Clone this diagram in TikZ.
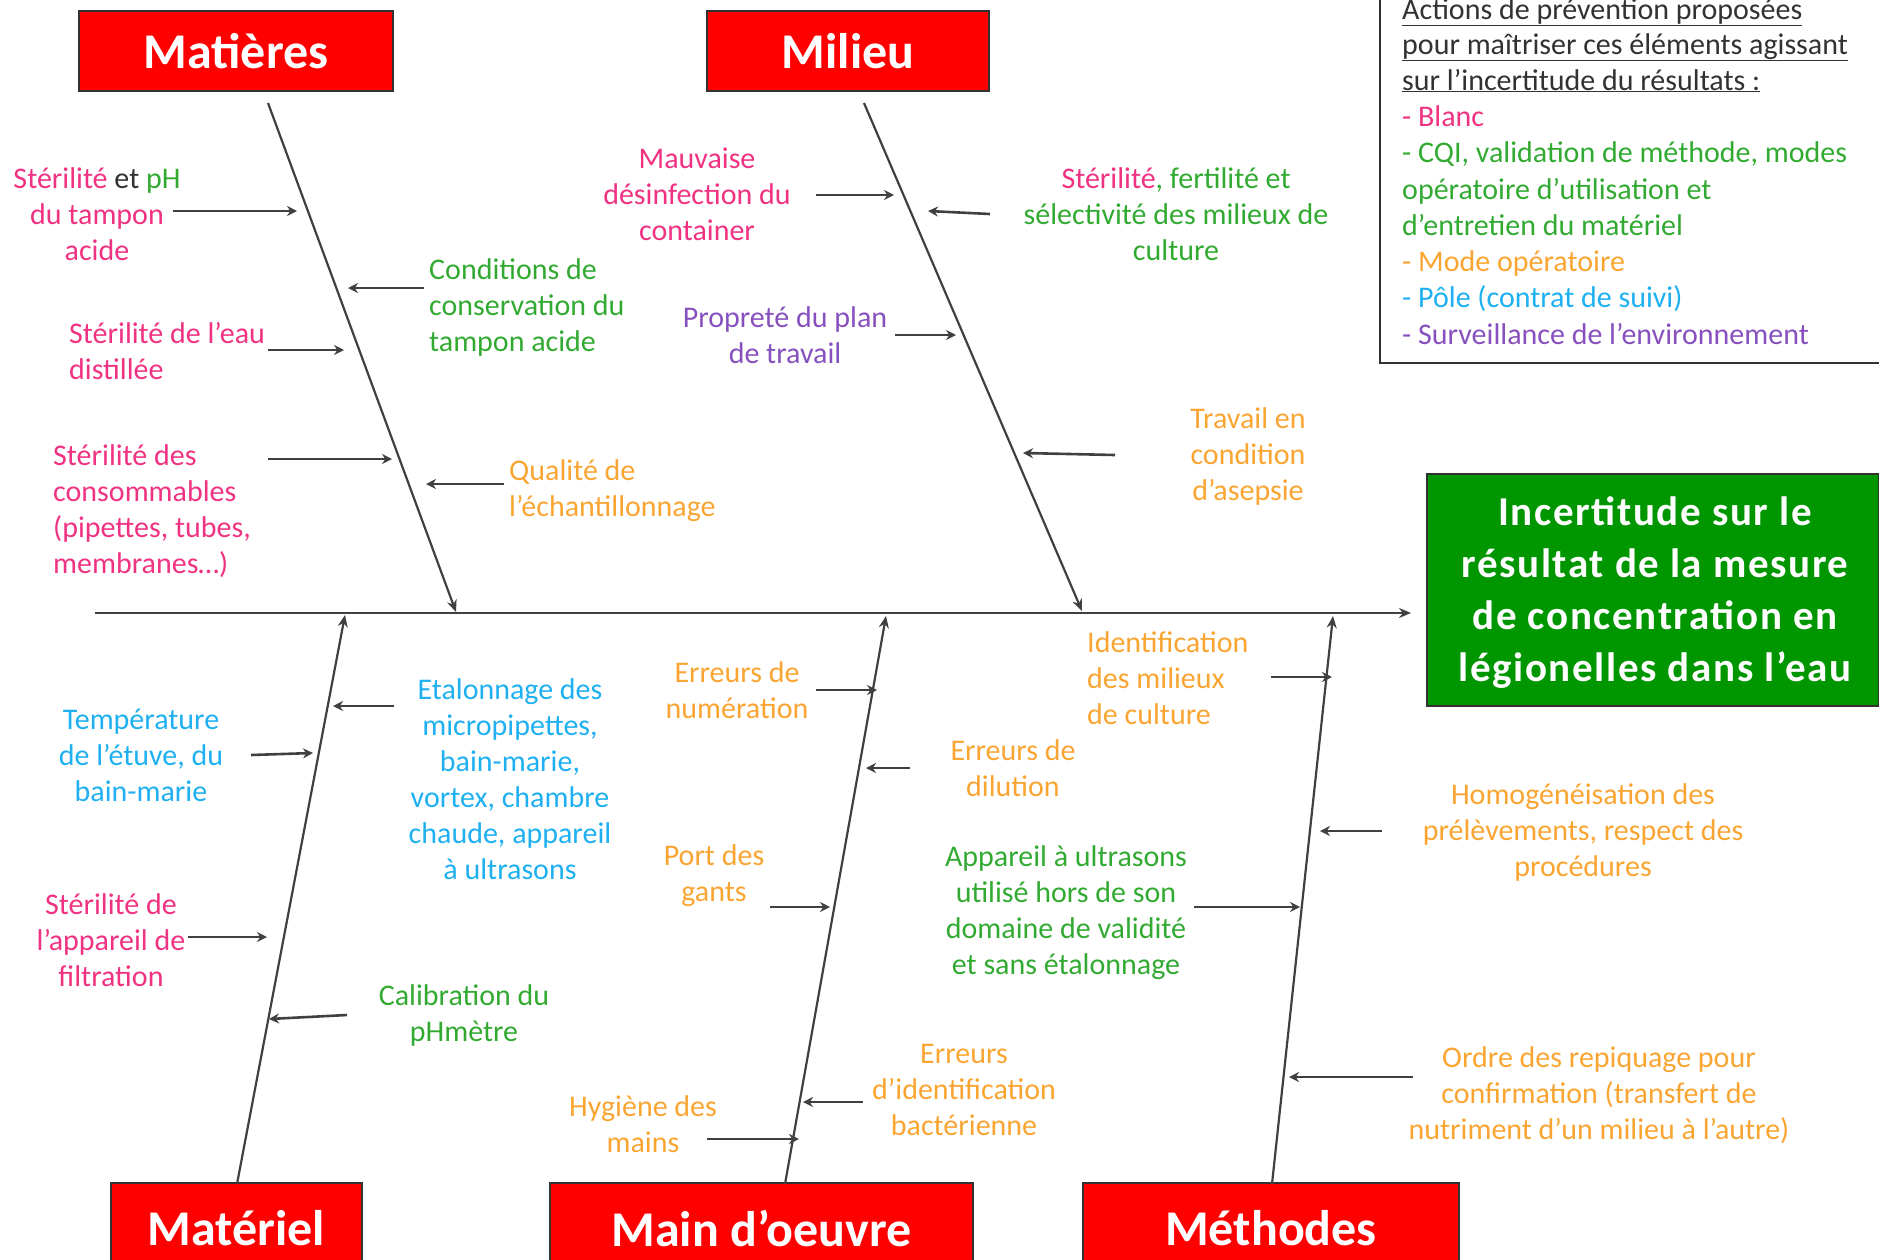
\documentclass[tikz,border=0pt]{standalone}
\usepackage{fontspec}
\setmainfont{Carlito}
\usetikzlibrary{arrows.meta}
\definecolor{cpink}{RGB}{240,50,130}
\definecolor{cgreen}{RGB}{50,170,50}
\definecolor{corange}{RGB}{250,165,50}
\definecolor{cblue}{RGB}{30,176,240}
\definecolor{cpurple}{RGB}{135,80,190}
\definecolor{cred}{RGB}{255,0,0}
\definecolor{cgreenbox}{RGB}{0,150,0}
\definecolor{cline}{RGB}{64,64,64}
\definecolor{cdark}{RGB}{50,50,50}
\begin{document}
\begin{tikzpicture}[x=1pt,y=-1pt,
  lbl/.style={font=\fontsize{30}{36}\selectfont, align=center, inner sep=0pt},
  lbll/.style={lbl, align=left, anchor=west},
  leg/.style={font=\fontsize{30}{36}\selectfont, inner sep=0pt, anchor=base west},
  cat/.style={fill=cred, draw=cdark, line width=2pt, text=white, font=\fontsize{50}{54}\selectfont\bfseries, inner sep=0pt, minimum height=90pt},
  bone/.style={draw=cline, line width=2.2pt, -{Stealth[length=12pt,width=10pt]}},
  arr/.style={draw=cline, line width=2.6pt, -{Stealth[length=10pt,width=10pt]}},
]
\useasboundingbox (0,0) rectangle (1879,1259);
\clip (0,0) rectangle (1879,1259);

% category boxes
\node[cat, minimum width=314pt, minimum height=80pt] (mat) at (236,51) {Matières};
\node[cat, minimum width=282pt, minimum height=80pt] (mil) at (848,51) {Milieu};
\node[cat, minimum width=251pt] (matl) at (236.5,1228) {Matériel};
\node[cat, minimum width=423pt] (mo) at (761.5,1228) {Main d’oeuvre};
\node[cat, minimum width=376pt] (meth) at (1271,1228) {Méthodes};

% effect box
\node[fill=cgreenbox, draw=cdark, line width=2pt, inner sep=0pt,
      minimum width=452pt, minimum height=232pt] (eff) at (1653,590) {};
\node[text=white, inner sep=0pt, align=center,
      font=\fontsize{41}{52}\selectfont\bfseries\addfontfeatures{LetterSpace=4}] (efftxt) at (1655,593)
  {Incertitude sur le\\résultat de la mesure\\de concentration en\\légionelles dans l’eau};

% legend frame and text
\draw[draw=cdark, line width=2.5pt] (1380,-20) -- (1380,363) -- (1900,363);
\node[leg, text=cdark] (leg1) at (1402,19) {\underline{Actions de prévention proposées}};
\node[leg, text=cdark] (leg2) at (1402,54) {\underline{pour maîtriser ces éléments agissant}};
\node[leg, text=cdark] (leg3) at (1402,90) {\underline{sur l’incertitude du résultats :}};
\node[leg, text=cpink] (leg4) at (1402,126) {- Blanc};
\node[leg, text=cgreen] (leg5) at (1402,162) {- CQI, validation de méthode, modes};
\node[leg, text=cgreen] (leg6) at (1402,199) {opératoire d’utilisation et};
\node[leg, text=cgreen] (leg7) at (1402,235) {d’entretien du matériel};
\node[leg, text=corange] (leg8) at (1402,271) {- Mode opératoire};
\node[leg, text=cblue] (leg9) at (1402,307) {- Pôle (contrat de suivi)};
\node[leg, text=cpurple] (leg10) at (1402,344) {- Surveillance de l’environnement};

% spine and bones
\coordinate (spL) at (95,613);
\coordinate (spR) at (1411,613);
\draw[bone, line width=2.8pt] (spL) -- (spR);
\coordinate (b1s) at (268,103);  \coordinate (b1e) at (456,612);
\coordinate (b2s) at (864,103);  \coordinate (b2e) at (1082,611);
\coordinate (b3s) at (237,1184); \coordinate (b3e) at (345,615);
\coordinate (b4s) at (785,1184); \coordinate (b4e) at (886,616);
\coordinate (b5s) at (1272,1184);\coordinate (b5e) at (1333,616);
\draw[bone] (b1s) -- (b1e);
\draw[bone] (b2s) -- (b2e);
\draw[bone] (b3s) -- (b3e);
\draw[bone] (b4s) -- (b4e);
\draw[bone] (b5s) -- (b5e);

% labels - Matieres
\node[lbl, text=cpink] (t1) at (97,214) {{\color{cpink}Stérilité} {\color{cdark}et} {\color{cgreen}pH}\\du tampon\\acide};
\node[lbll, text=cgreen] (t2) at (429,307) {Conditions de\\conservation du\\tampon acide};
\node[lbll, text=cpink] (t3) at (69,351) {Stérilité de l’eau\\distillée};
\node[lbll, text=cpink] (t4) at (53,511) {Stérilité des\\consommables\\(pipettes, tubes,\\membranes…)};
\node[lbll, text=corange] (t5) at (509,491) {Qualité de\\l’échantillonnage};
% Milieu
\node[lbl, text=cpink] (t6) at (697,194) {Mauvaise\\désinfection du\\container};
\node[lbl, text=cgreen] (t7) at (1176,214) {{\color{cpink}Stérilité}, fertilité et\\sélectivité des milieux de\\culture};
\node[lbl, text=cpurple] (t8) at (785,335) {Propreté du plan\\de travail};
\node[lbl, text=corange] (t9) at (1248,456) {Travail en\\condition\\d’asepsie};
% Materiel
\node[lbl, text=cblue] (t10) at (141,755) {Température\\de l’étuve, du\\bain-marie};
\node[lbl, text=cblue] (t11) at (510,779) {Etalonnage des\\micropipettes,\\bain-marie,\\vortex, chambre\\chaude, appareil\\à ultrasons};
\node[lbl, text=cpink] (t12) at (111,940) {Stérilité de\\l’appareil de\\filtration};
\node[lbl, text=cgreen] (t13) at (464,1015) {Calibration du\\pHmètre};
% Main d'oeuvre
\node[lbl, text=corange] (t14) at (737,690) {Erreurs de\\numération};
\node[lbl, text=corange] (t15) at (1013,768) {Erreurs de\\dilution};
\node[lbl, text=corange] (t16) at (714,876) {Port des\\gants};
\node[lbl, text=corange] (t17) at (643,1124) {Hygiène des\\mains};
\node[lbl, text=corange] (t18) at (964,1090) {Erreurs\\d’identification\\bactérienne};
% Methodes
\node[lbl, text=cgreen] (t19) at (1066,913) {Appareil à ultrasons\\utilisé hors de son\\domaine de validité\\et sans étalonnage};
\node[lbll, text=corange] (t20) at (1087,678) {Identification\\des milieux\\de culture};
\node[lbl, text=corange] (t21) at (1583,832) {Homogénéisation des\\prélèvements, respect des\\procédures};
\node[lbl, text=corange] (t22) at (1599,1095) {Ordre des repiquage pour\\confirmation (transfert de\\nutriment d’un milieu à l’autre)};

% small arrows
\coordinate (a1s) at (173,211);  \coordinate (a1e) at (297,211);
\coordinate (a2s) at (424,288);  \coordinate (a2e) at (348,288);
\coordinate (a3s) at (268,350);  \coordinate (a3e) at (344,350);
\coordinate (a4s) at (268,459);  \coordinate (a4e) at (392,459);
\coordinate (a5s) at (504,484);  \coordinate (a5e) at (426,484);
\coordinate (a6s) at (816,195);  \coordinate (a6e) at (894,195);
\coordinate (a7s) at (990,214);  \coordinate (a7e) at (928,211);
\coordinate (a8s) at (895,335);  \coordinate (a8e) at (956,335);
\coordinate (a9s) at (1115,455); \coordinate (a9e) at (1023,453);
\coordinate (a10s) at (394,706); \coordinate (a10e) at (333,706);
\coordinate (a11s) at (251,755); \coordinate (a11e) at (313,753);
\coordinate (a12s) at (188,937); \coordinate (a12e) at (267,937);
\coordinate (a13s) at (347,1015);\coordinate (a13e) at (269,1019);
\coordinate (a14s) at (816,690); \coordinate (a14e) at (877,690);
\coordinate (a15s) at (910,768); \coordinate (a15e) at (866,768);
\coordinate (a16s) at (770,907); \coordinate (a16e) at (830,907);
\coordinate (a17s) at (863,1102);\coordinate (a17e) at (803,1102);
\coordinate (a18s) at (707,1139);\coordinate (a18e) at (799,1139);
\coordinate (a19s) at (1271,677);\coordinate (a19e) at (1332,677);
\coordinate (a20s) at (1194,907);\coordinate (a20e) at (1300,907);
\coordinate (a21s) at (1382,831);\coordinate (a21e) at (1320,831);
\coordinate (a22s) at (1413,1077);\coordinate (a22e) at (1289,1077);
\foreach \i in {1,...,22} { \draw[arr] (a\i s) -- (a\i e); }
\end{tikzpicture}
\end{document}
